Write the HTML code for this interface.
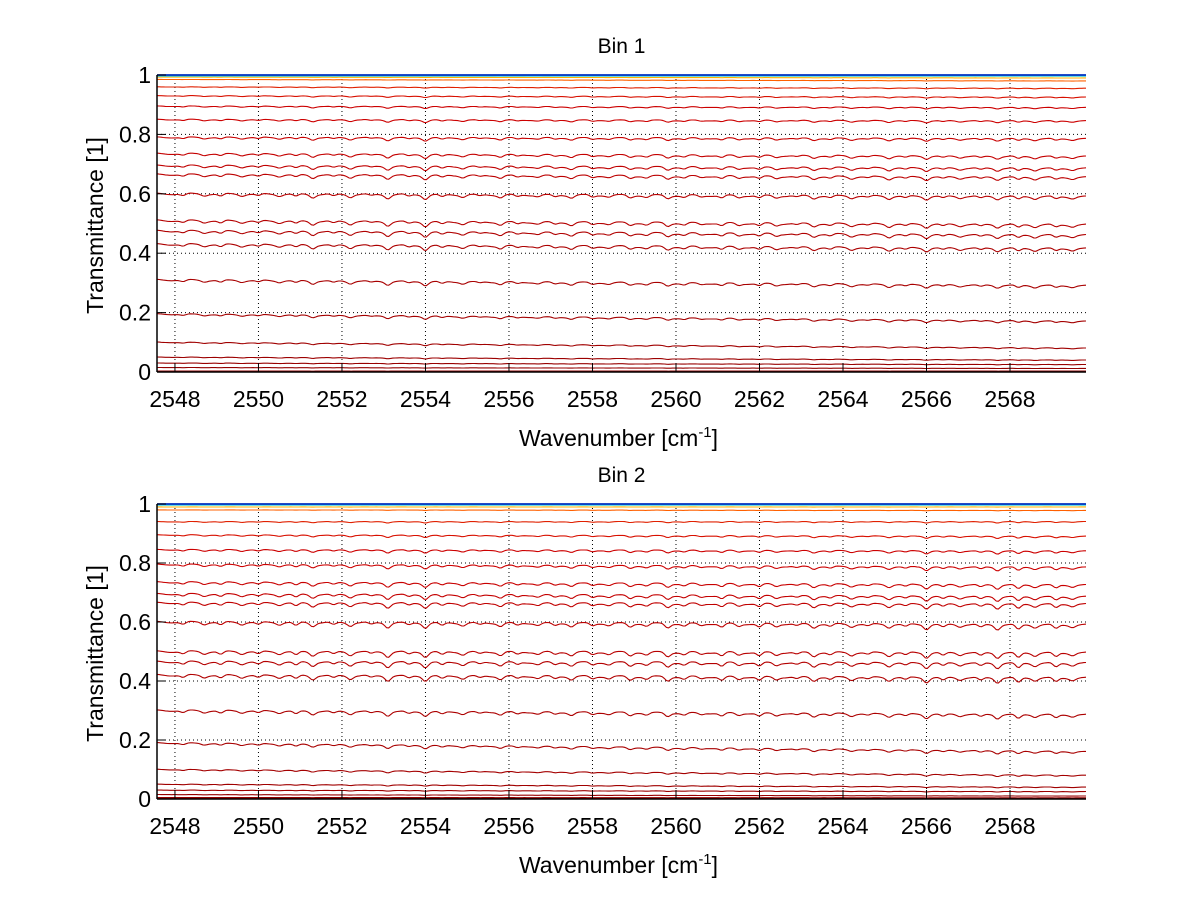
<!DOCTYPE html>
<html><head><meta charset="utf-8"><style>
body{margin:0;background:#fff;}
svg{display:block;font-family:"Liberation Sans",sans-serif;}
</style></head><body>
<svg id="fig" width="1200" height="901" xmlns="http://www.w3.org/2000/svg"></svg>
<script>
// ---- data ----
const xTicks = [2548,2550,2552,2554,2556,2558,2560,2562,2564,2566,2568];
const yTicks = [0,0.2,0.4,0.6,0.8,1];
const yTickLabels = ["0","0.2","0.4","0.6","0.8","1"];
// absorption line positions (cm-1) and relative depths
const linePos = [2548.2,2548.7,2549.1,2549.6,2550.0,2550.5,2550.9,2551.3,2551.8,2552.2,2552.7,2553.1,2553.6,2554.0,2554.4,2554.9,2555.3,2555.8,2556.2,2556.7,2557.1,2557.5,2558.0,2558.4,2558.9,2559.3,2559.8,2560.2,2560.6,2561.1,2561.5,2562.0,2562.4,2562.9,2563.3,2563.7,2564.2,2564.6,2565.1,2565.5,2566.0,2566.4,2566.8,2567.3,2567.7,2568.2,2568.6,2569.1,2569.5];
const lineDepth1 = [0.4,0.3,0.5,0.3,0.4,0.3,0.5,0.6,0.4,0.5,0.3,0.7,0.4,0.8,0.5,0.4,0.3,0.5,0.4,0.3,0.4,0.5,0.4,0.3,0.5,0.4,0.6,0.4,0.3,0.5,0.4,0.5,0.4,0.3,0.5,0.4,0.4,0.3,0.5,0.4,0.6,0.4,0.3,0.4,0.5,0.6,0.4,0.5,0.3];
const lineDepth2 = [0.5,0.4,0.6,0.4,0.5,0.4,0.7,0.7,0.5,0.6,0.4,0.9,0.5,0.9,0.6,0.5,0.4,0.6,0.5,0.4,0.5,0.6,0.5,0.4,0.7,0.5,0.8,0.5,0.4,0.7,0.5,0.7,0.5,0.4,0.7,0.5,0.5,0.4,0.6,0.5,0.9,0.6,0.4,0.6,0.9,1.0,0.5,0.8,0.4];
// transmittance levels of each series at left and right edges
const levelsStart1 = [1.0,0.997,0.993,0.985,0.96,0.93,0.895,0.85,0.79,0.735,0.695,0.665,0.6,0.51,0.475,0.43,0.31,0.195,0.1,0.05,0.03,0.015,0.003];
const levelsEnd1   = [1.0,0.997,0.99,0.98,0.955,0.925,0.89,0.845,0.785,0.725,0.685,0.655,0.59,0.495,0.46,0.415,0.29,0.17,0.08,0.04,0.025,0.012,0.003];
const levelsStart2 = [1.0,0.997,0.99,0.98,0.94,0.895,0.845,0.795,0.735,0.695,0.665,0.6,0.5,0.465,0.42,0.3,0.19,0.1,0.05,0.03,0.015,0.005,0.002];
const levelsEnd2   = [1.0,0.997,0.99,0.978,0.94,0.89,0.84,0.785,0.725,0.685,0.66,0.59,0.495,0.46,0.41,0.285,0.16,0.08,0.04,0.025,0.01,0.004,0.002];
const seriesColors = ["#0030c0","#30d0e0","#ffb000","#ff6000","#e02000","#d81000","#cc0000","#cc0000","#c80000","#c40000","#c00000","#bc0000","#b80000","#b40000","#b00000","#ac0000","#a80000","#a40000","#a00000","#9c0000","#980000","#940000","#900000"];
const xMin=2547.57, xMax=2569.82;

const svg=document.getElementById('fig');
const NS="http://www.w3.org/2000/svg";
function mk(tag,attrs,parent){const e=document.createElementNS(NS,tag);for(const k in attrs)e.setAttribute(k,attrs[k]);(parent||svg).appendChild(e);return e;}

function drawPanel(idx,top,bottom,title,ls,le,depths){
  const L=157,R=1086;
  const g=mk('g',{});
  
  
  const sx=v=>L+(v-xMin)/(xMax-xMin)*(R-L);
  const sy=v=>bottom-v*(bottom-top);
  xTicks.forEach(t=>{const l=mk('line',{x1:sx(t),x2:sx(t),y1:top,y2:bottom,stroke:'#000','stroke-width':1,'stroke-dasharray':'1,3'},g);
    });
  yTicks.forEach(t=>{const l=mk('line',{x1:L,x2:R,y1:sy(t),y2:sy(t),stroke:'#000','stroke-width':1,'stroke-dasharray':'1,3'},g);
    });
  for(let s=ls.length-1;s>=0;s--){
    let d='';
    for(let x=xMin;x<=xMax+1e-9;x+=0.05){
      const f=(x-xMin)/(xMax-xMin);
      const base=ls[s]+(le[s]-ls[s])*f;
      let a=0;
      for(let k=0;k<linePos.length;k++){const dx=(x-linePos[k])/0.09;a+=depths[k]*Math.exp(-dx*dx);}
      const v=base*(1-0.045*a*(1-base)*(base<0.97?1.6:1))-0.012*Math.sin(x*7.3)*base*(1-base);
      d+=(d?'L':'M')+sx(x).toFixed(1)+','+sy(v).toFixed(1);
    }
    const p=mk('path',{d:d,fill:'none',stroke:seriesColors[s],'stroke-width':s<2?1.8:1.1},g);
    
    
  }
  const ax=mk('line',{x1:L,x2:R,y1:bottom,y2:bottom,stroke:'#000','stroke-width':1.5},g);
  
  const ay=mk('line',{x1:L,x2:L,y1:top,y2:bottom,stroke:'#000','stroke-width':1.5},g);
  
  xTicks.forEach(t=>{
    mk('line',{x1:sx(t),x2:sx(t),y1:bottom,y2:bottom-9,stroke:'#000'},g);
    const tx=mk('text',{x:sx(t),y:bottom+35,'font-size':23,'text-anchor':'middle'},g);tx.textContent=t;
    
  });
  yTicks.forEach((t,i)=>{
    mk('line',{x1:L,x2:L+9,y1:sy(t),y2:sy(t),stroke:'#000'},g);
    const tx=mk('text',{x:L-6,y:sy(t)+8,'font-size':23,'text-anchor':'end'},g);tx.textContent=yTickLabels[i];
    
  });
  const ti=mk('text',{x:(L+R)/2,y:top-22,'font-size':21,'text-anchor':'middle'},g);ti.textContent=title;
  
  const xl=mk('text',{x:(L+R)/2-3,y:bottom+74,'font-size':23,'text-anchor':'middle'},g);
  xl.innerHTML='Wavenumber [cm<tspan font-size="15" dy="-9">-1</tspan><tspan dy="9">]</tspan>';
  
  const yl=mk('text',{x:0,y:0,'font-size':23,'text-anchor':'middle',transform:`translate(103,${(top+bottom)/2+2}) rotate(-90)`},g);
  yl.textContent='Transmittance [1]';
  
}
drawPanel(1,75,372,'Bin 1',levelsStart1,levelsEnd1,lineDepth1);
drawPanel(2,504,799,'Bin 2',levelsStart2,levelsEnd2,lineDepth2);
</script>
</body></html>
